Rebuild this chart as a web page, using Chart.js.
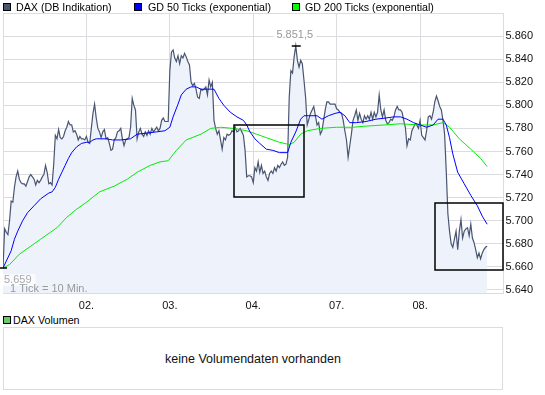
<!DOCTYPE html>
<html><head><meta charset="utf-8">
<script src="https://cdn.jsdelivr.net/npm/chart.js@4/dist/chart.umd.min.js"></script>
<style>
html,body{margin:0;padding:0;background:#fff;}
body{width:545px;height:395px;position:relative;overflow:hidden;font-family:"Liberation Sans",Arial,sans-serif;}
#wrap{position:absolute;left:0;top:0;width:545px;height:312px;}
.lg{position:absolute;font-size:10.7px;line-height:12px;color:#000;white-space:nowrap;}
.sq{position:absolute;width:6px;height:6px;border:1px solid #000;}
#vol{position:absolute;left:3px;top:327px;width:500px;height:63px;box-sizing:border-box;border:1px solid #dcdcdc;
  display:flex;align-items:center;justify-content:center;font-size:12.5px;color:#111;}
</style></head>
<body>
<div id="wrap"><canvas id="c" width="545" height="312"></canvas></div>
<div class="sq" style="left:3px;top:3px;background:#4a5570"></div>
<div class="lg" style="left:16px;top:1px">DAX (DB Indikation)</div>
<div class="sq" style="left:134px;top:3px;background:#0000ff"></div>
<div class="lg" style="left:148px;top:1px">GD 50 Ticks (exponential)</div>
<div class="sq" style="left:292px;top:3px;background:#00ff00"></div>
<div class="lg" style="left:305px;top:1px">GD 200 Ticks (exponential)</div>
<div class="sq" style="left:3px;top:316px;background:#66cc66"></div>
<div class="lg" style="left:13px;top:314px">DAX Volumen</div>
<div id="vol">keine Volumendaten vorhanden</div>
<script>
// ---- data (x in 10-minute ticks) ----
const dayTicks = [51, 102, 153, 204, 255];
const dayLabels = ['02.', '03.', '04.', '07.', '08.'];
const yTickValues = [5640,5660,5680,5700,5720,5740,5760,5780,5800,5820,5840,5860,5880];

const daxValues = [
5659,5693,5690,5688,5700,5717,5716,5729,5738,5743,5736,5733,5732,5732,5730,5734,5738,5740,5738,5736,
5731,5735,5733,5735,5738,5740,5748,5742,5732,5733,5731,5749,5774,5771,5779,5772,5771,5773,5778,5781,
5786,5783,5783,5777,5778,5775,5770,5773,5771,5771,5770,5773,5768,5767,5780,5793,5801,5789,5780,5777,
5772,5777,5779,5771,5772,5767,5761,5762,5770,5772,5777,5778,5780,5771,5765,5770,5771,5772,5781,5806,
5800,5796,5771,5777,5780,5775,5773,5777,5774,5778,5775,5780,5777,5779,5781,5778,5780,5787,5789,5786,
5786,5786,5830,5846,5848,5841,5838,5843,5836,5843,5841,5845,5842,5838,5835,5820,5817,5819,5814,5807,
5806,5814,5813,5814,5816,5809,5822,5816,5820,5787,5780,5775,5778,5770,5762,5772,5770,5775,5774,5775,
5778,5777,5781,5777,5778,5780,5777,5774,5761,5738,5739,5739,5738,5733,5746,5743,5751,5742,5748,5741,
5743,5738,5735,5741,5743,5741,5746,5743,5748,5746,5749,5751,5748,5749,5755,5807,5830,5828,5842,5851.5,
5839,5833,5839,5836,5822,5807,5783,5788,5793,5796,5799,5791,5783,5785,5775,5778,5787,5796,5803,5803,
5801,5801,5801,5801,5797,5796,5794,5793,5787,5778,5770,5755,5765,5775,5787,5791,5796,5787,5793,5788,
5785,5791,5788,5791,5788,5794,5788,5794,5790,5794,5809,5796,5790,5796,5787,5784,5785,5788,5787,5790,
5796,5799,5796,5796,5794,5787,5781,5765,5771,5770,5778,5781,5784,5783,5780,5787,5774,5772,5770,5778,
5790,5791,5788,5794,5803,5808,5804,5799,5796,5787,5775,5743,5706,5691,5680,5677,5684,5691,5675,5691,
5701,5685,5691,5693,5694,5687,5697,5685,5681,5675,5668,5672,5667,5672,5675,5677,5678];

const gd50Ticks = [0,2,5,7,9,12,15,19,23,28,30,32,34,36,38,40,42,45,48,51,53,55,57,60,63,67,72,78,82,88,94,99,102,104,107,109,112,115,118,121,129,132,135,139,143,147,149,151,154,157,161,165,169,174,176,179,182,184,187,192,195,199,203,206,209,212,216,222,228,234,239,243,247,251,255,259,263,266,269,271,273,275,278,282,286,290,293,296];
const gd50Values = [5659,5665,5674,5684,5691,5700,5707,5713,5719,5724,5725,5729,5736,5742,5748,5754,5759,5764,5767,5768,5768,5770,5771,5771,5771,5770,5770,5771,5775,5776,5777,5778,5781,5790,5801,5809,5814,5816,5816,5814,5814,5806,5800,5794,5790,5787,5783,5777,5771,5767,5762,5761,5759,5759,5768,5777,5788,5791,5791,5791,5788,5791,5793,5794,5791,5785,5785,5786,5788,5789,5790,5790,5788,5785,5783,5781,5783,5788,5788,5783,5772,5758,5742,5732,5722,5713,5704,5697];

const gd200Ticks = [0,4,10,17,23,29,33,39,45,51,59,68,76,82,90,96,101,106,112,121,127,133,141,149,155,161,169,175,178,182,186,194,204,214,222,233,243,255,263,269,273,279,286,292,296];
const gd200Values = [5659,5662,5671,5678,5684,5690,5694,5703,5710,5716,5725,5730,5736,5742,5748,5751,5752,5761,5770,5775,5780,5781,5780,5778,5775,5772,5768,5766,5768,5775,5778,5780,5781,5781,5782,5783,5784,5783,5783,5785,5781,5771,5762,5754,5747];

// highlighted pattern boxes: [fromTick, toTick, lowValue, highValue]
const boxFrom = [141.5, 264];
const boxTo = [184.5, 305.5];
const boxLow = [5721, 5657.5];
const boxHigh = [5783, 5715.5];

// ---- helpers ----
function de(v, dec){
  const s = v.toFixed(dec);
  let [i, d] = s.split('.');
  i = i.replace(/\B(?=(\d{3})+(?!\d))/g, '.');
  return d ? i + ',' + d : i;
}
const FONT = '"Liberation Sans", Arial, sans-serif';
Chart.defaults.font.family = FONT;
Chart.defaults.font.size = 11;
Chart.defaults.color = '#111';
const GRID = '#dcdce0';

const overlay = {
  id: 'overlay',
  afterDatasetsDraw(chart){
    const {ctx, scales:{x, y}, chartArea:a} = chart;
    ctx.save();
    // boxes
    ctx.strokeStyle = '#000'; ctx.lineWidth = 1.5;
    for (let k = 0; k < boxFrom.length; k++){
      const x0 = x.getPixelForValue(boxFrom[k]), x1 = x.getPixelForValue(boxTo[k]);
      const y0 = y.getPixelForValue(boxHigh[k]), y1 = y.getPixelForValue(boxLow[k]);
      ctx.strokeRect(Math.round(x0), Math.round(y0), Math.round(x1-x0), Math.round(y1-y0));
    }
    // peak + low markers
    let hi = 0, lo = 0;
    daxValues.forEach((v,i)=>{ if (v > daxValues[hi]) hi = i; if (v < daxValues[lo]) lo = i; });
    ctx.font = '11px ' + FONT;
    ctx.textBaseline = 'middle';
    const hx = x.getPixelForValue(hi), hy = y.getPixelForValue(daxValues[hi]);
    const ht = de(daxValues[hi], 1);
    const hw = ctx.measureText(ht).width;
    ctx.fillStyle = '#fff';
    ctx.fillRect(hx - 1 - hw/2 - 3, hy - 18, hw + 6, 13);
    ctx.fillStyle = '#999';
    ctx.textAlign = 'center';
    ctx.fillText(ht, hx - 1, hy - 11);
    ctx.strokeStyle = '#000'; ctx.lineWidth = 1.5;
    ctx.beginPath(); ctx.moveTo(hx - 4, Math.round(hy)); ctx.lineTo(hx + 5, Math.round(hy)); ctx.stroke();

    const lx = x.getPixelForValue(lo), ly = y.getPixelForValue(daxValues[lo]);
    ctx.beginPath(); ctx.moveTo(lx - 3, Math.round(ly)); ctx.lineTo(lx + 4, Math.round(ly)); ctx.stroke();
    const lt = de(daxValues[lo], 0);
    const lw = ctx.measureText(lt).width;
    ctx.fillStyle = 'rgba(255,255,255,0.65)';
    ctx.fillRect(a.left, ly + 6, lw + 5, 12);
    ctx.fillStyle = '#aaa';
    ctx.textAlign = 'left';
    ctx.fillText(lt, a.left + 1, ly + 12);
    ctx.fillStyle = '#999';
    ctx.fillText('1 Tick = 10 Min.', a.left + 7, a.bottom - 4);
    ctx.restore();
  }
};

new Chart(document.getElementById('c'), {
  type: 'line',
  data: {
    datasets: [
      { label: 'GD 50 Ticks (exponential)', order: 1,
        data: gd50Ticks.map((t,i)=>({x:t, y:gd50Values[i]})),
        borderColor: '#0000ff', borderWidth: 1, fill: false },
      { label: 'GD 200 Ticks (exponential)', order: 2,
        data: gd200Ticks.map((t,i)=>({x:t, y:gd200Values[i]})),
        borderColor: '#00ee00', borderWidth: 1, fill: false },
      { label: 'DAX (DB Indikation)', order: 3,
        data: daxValues.map((v,i)=>({x:i, y:v})),
        borderColor: '#4a5570', borderWidth: 1.2, fill: 'start', backgroundColor: '#eef2fb' }
    ]
  },
  options: {
    responsive: false, devicePixelRatio: 1, animation: false,
    layout: { padding: { left: 3, top: 13, right: 0, bottom: 0 } },
    elements: { point: { radius: 0 }, line: { tension: 0 } },
    plugins: { legend: { display: false }, tooltip: { enabled: false } },
    scales: {
      x: { type: 'linear', min: 0, max: 306,
        afterFit: s => { s.height = 19; s.paddingLeft = 0; s.paddingRight = 0; },
        afterBuildTicks: s => { s.ticks = [0, ...dayTicks, 306].map(v => ({value: v})); },
        ticks: { autoSkip: false, maxRotation: 0, padding: 6, color: '#111',
          callback: v => { const i = dayTicks.indexOf(v); return i >= 0 ? dayLabels[i] : ''; } },
        grid: { color: GRID, drawTicks: false },
        border: { color: GRID }
      },
      y: { position: 'right', min: 5637.4, max: 5880,
        afterFit: s => { s.width = 41.5; },
        afterBuildTicks: s => { s.ticks = yTickValues.map(v => ({value: v})); },
        ticks: { padding: 2, color: '#111', callback: v => v >= 5880 ? '' : de(v, 0) },
        grid: { color: GRID, drawTicks: false },
        border: { color: GRID }
      }
    }
  },
  plugins: [overlay]
});
</script>
</body></html>
